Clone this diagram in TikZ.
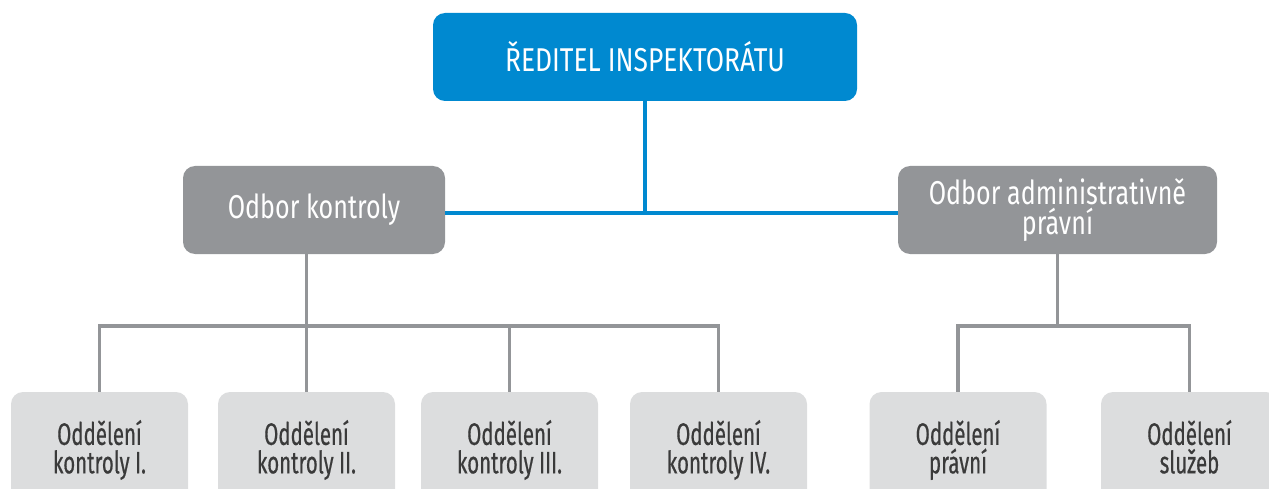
\documentclass[tikz,border=0pt]{standalone}
\usepackage{fontspec}
\setmainfont{Fira Sans}[FakeStretch=0.78]
\newfontfamily\topfont{Fira Sans}[FakeStretch=0.8]
\newfontfamily\midfont{Fira Sans}[FakeStretch=0.76]
\newfontfamily\lowfont{Fira Sans}[FakeStretch=0.66, FakeBold=0.5]
\definecolor{topblue}{HTML}{0089D0}
\definecolor{midgray}{HTML}{939598}
\definecolor{lightgray}{HTML}{DCDDDE}
\definecolor{darktext}{HTML}{3A3A3A}
\tikzset{
  topbox/.style={rectangle, rounded corners=12pt, fill=topblue, text=white,
    minimum width=424pt, minimum height=88pt, inner sep=0pt, align=center,
    font=\topfont\fontsize{33}{36}\selectfont},
  midbox/.style={rectangle, rounded corners=12pt, fill=midgray, text=white,
    minimum height=88pt, inner sep=0pt, align=center,
    font=\midfont\fontsize{33}{30}\selectfont},
  lowbox/.style={rectangle, rounded corners=12pt, fill=lightgray, text=darktext,
    minimum width=177pt, minimum height=116pt, inner sep=0pt, align=center,
    font=\lowfont\fontsize{31}{28.5}\selectfont,
    execute at end node={\vphantom{p}}},
  blueline/.style={draw=topblue, line width=4pt},
  grayline/.style={draw=midgray, line width=3.5pt}
}
\begin{document}
\begin{tikzpicture}[x=1pt,y=-1pt]
\useasboundingbox (0,0) rectangle (1269,489);
\clip (0,0) rectangle (1269,489);
\node[topbox] (top) at (645,57) {ŘEDITEL INSPEKTORÁTU};
\node[midbox, minimum width=262pt] (ok) at (314,210) {Odbor kontroly};
\node[midbox, minimum width=319pt] (oap) at (1057.5,210) {Odbor administrativně\\právní};
\node[lowbox] (b1) at (99.5,450) {Oddělení\\kontroly I.};
\node[lowbox] (b2) at (306.5,450) {Oddělení\\kontroly II.};
\node[lowbox] (b3) at (509.5,450) {Oddělení\\kontroly III.};
\node[lowbox] (b4) at (718.5,450) {Oddělení\\kontroly IV.};
\node[lowbox] (b5) at (958,450) {Oddělení\\právní};
\node[lowbox] (b6) at (1189.5,450) {Oddělení\\služeb};
\coordinate (bj) at (645,213);
\coordinate (busl) at (0,326);
\coordinate (busr) at (0,326);
% blue connectors
\draw[blueline] (top.south) -- (top.south |- bj);
\draw[blueline] (ok.east |- bj) -- (oap.west |- bj);
% left gray connectors
\draw[grayline] (ok.south -| b2.north) -- (b2.north);
\draw[grayline] (b1.north) -- (b1.north |- busl) -- (b4.north |- busl) -- (b4.north);
\draw[grayline] (b3.north) -- (b3.north |- busl);
% right gray connectors
\draw[grayline] (oap.south) -- (oap.south |- busr);
\draw[grayline] (b5.north) -- (b5.north |- busr) -- (b6.north |- busr) -- (b6.north);
\end{tikzpicture}
\end{document}
